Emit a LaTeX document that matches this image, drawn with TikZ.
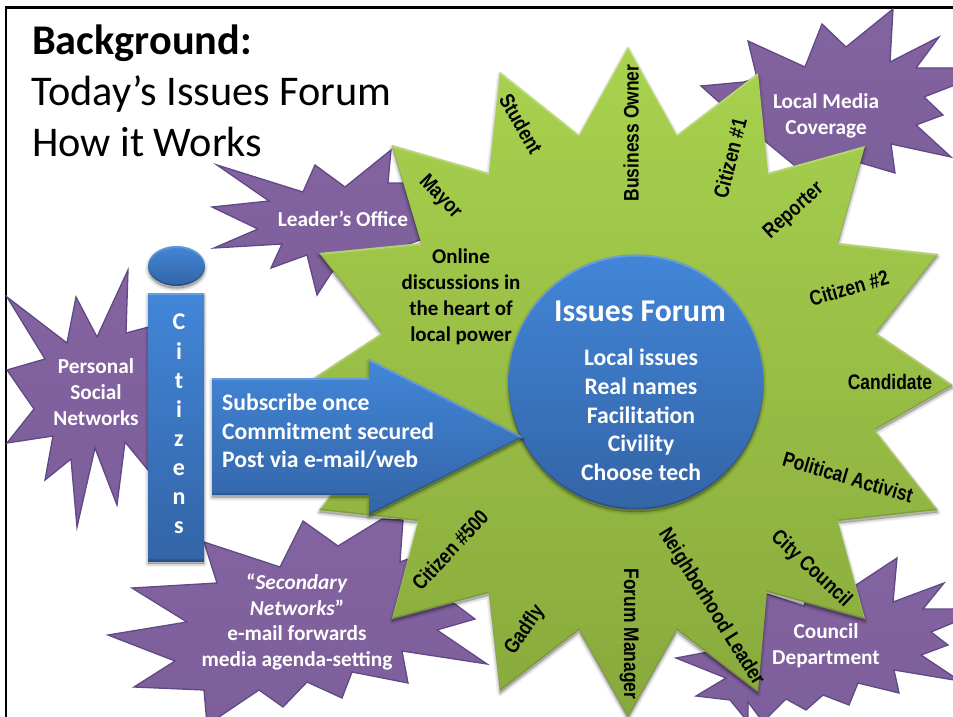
\documentclass[tikz,border=0pt]{standalone}
\usepackage{fontspec}
\setmainfont{Carlito}
\newfontfamily\lab[FakeStretch=0.83]{Liberation Sans}
\definecolor{gtop}{HTML}{A8D24E}
\definecolor{gbot}{HTML}{88A93C}
\definecolor{btop}{HTML}{4286D8}
\definecolor{bbot}{HTML}{3364A6}
\definecolor{ptop}{HTML}{8363A0}
\definecolor{pbot}{HTML}{7D5F9C}
\definecolor{pedge}{HTML}{5F4A85}
\def\greenstar{(392,145)--(489,173)--(500,72)--(579,135)--(628,47)--(677,135)--(758,73)--(768,173)--(865,146)--(838,243)--(938,254)--(876,333)--(953,385)--(875,430)--(938,510)--(838,521)--(865,619)--(767,592)--(758,692)--(677,630)--(628,717)--(579,630)--(500,691)--(489,593)--(392,619)--(418,521)--(319,510)--(381,430)--(303,385)--(382,333)--(319,253)--(421,243)--cycle}
\def\leaderstar{(391,150)--(388,183)--(405,183)--(420,240)--(332,272)--(317,295)--(307,255)--(271,268)--(282,244)--(214,248)--(258,229)--(212,207)--(269,201)--(217,165)--(303,192)--(315,165)--(345,187)--cycle}
\def\mediastar{(893,9)--(890,62)--(939,37)--(916,68)--(960,68)--(960,83)--(924,97)--(943,115)--(916,125)--(951,157)--(891,144)--(895,173)--(861,163)--(800,170)--(725,108)--(719,102)--(701,86)--(744,82)--(757,78)--(748,41)--(805,67)--(822,24)--(846,47)--cycle}
\def\personalstar{(7,297)--(67,343)--(76,297)--(97,337)--(128,270)--(126,333)--(160,324)--(160,478)--(148,470)--(125,442)--(117,505)--(95,448)--(77,527)--(71,459)--(45,480)--(53,436)--(7,443)--(34,409)--(7,370)--(45,359)--cycle}
\def\secondstar{(204,542)--(280,567)--(303,521)--(338,546)--(382,519)--(403,520)--(400,562)--(408,559)--(420,590)--(455,604)--(475,619)--(437,630)--(487,664)--(402,651)--(408,683)--(352,672)--(342,698)--(307,682)--(283,707)--(259,690)--(207,725)--(204,690)--(134,687)--(175,661)--(108,635)--(187,622)--(132,588)--(217,583)--cycle}
\def\councilstar{(897,558)--(893,602)--(944,583)--(923,609)--(960,609)--(960,620)--(931,632)--(948,645)--(921,655)--(960,681)--(894,670)--(899,693)--(858,683)--(849,705)--(823,695)--(806,710)--(786,699)--(763,722)--(748,702)--(748,722)--(730,700)--(696,696)--(726,678)--(676,658)--(708,652)--(767,594)--(804,606)--(806,600)--(856,585)--cycle}
\def\arrowshape{(212,378)--(369,378)--(369,359)--(523,437)--(369,515)--(369,495)--(212,495)--cycle}
\def\citizenbar{(148,293) rectangle (204,561)}
\def\citizenhead{(176.5,266) ellipse [x radius=28.5,y radius=20]}
\def\forumdisc{(636,382) circle [radius=127.5]}
\newcommand\softshadow[1]{%
  \begin{scope}[yshift=-2.5pt]
    \foreach \w in {6,4,2,.5}{\filldraw[black,opacity=.055,line width=\w pt,line join=round] #1;}
  \end{scope}}
\newcommand\bevelshape[5]{% path, top, bottom, highlight opacity, dark opacity
  \softshadow{#1}
  \shade[top color=#2,bottom color=#3] #1;
  \begin{scope}
    \clip #1;
    \begin{scope}[yshift=-2pt]\fill[white,opacity=#4,even odd rule] (-100,-100) rectangle (1100,900) #1;\end{scope}
    \begin{scope}[yshift=1.6pt]\fill[black,opacity=#5,even odd rule] (-100,-100) rectangle (1100,900) #1;\end{scope}
  \end{scope}}
\newcommand\burst[1]{\shade[top color=ptop,bottom color=pbot,draw=pedge,line width=1.3pt,line join=miter] #1;}
\tikzset{
  title/.style={anchor=base west,inner sep=0,font=\fontsize{42.3}{50}\selectfont,text=black},
  rolelabel/.style={inner sep=0,text=black,font=\lab\bfseries\fontsize{21}{24}\selectfont},
  burstlabel/.style={inner sep=0,align=center,text=white,font=\bfseries\fontsize{21.3}{25.8}\selectfont},
  bluelabel/.style={inner sep=0,text=white,font=\bfseries\fontsize{23.7}{28.7}\selectfont},
}
\begin{document}
\begin{tikzpicture}[x=1pt,y=-1pt]
\useasboundingbox (0,0) rectangle (953,717);
\clip (0,0) rectangle (953,717);
\fill[white] (0,0) rectangle (953,717);
\draw[black,line width=2.7pt] (6,730) -- (6,7.4) -- (960,7.4);
\burst{\leaderstar}
\burst{\mediastar}
\burst{\personalstar}
\burst{\secondstar}
\burst{\councilstar}
\bevelshape{\greenstar}{gtop}{gbot}{.22}{.12}
\bevelshape{\forumdisc}{btop}{bbot}{.2}{.18}
\bevelshape{\arrowshape}{btop}{bbot}{.2}{.18}
\bevelshape{\citizenbar}{btop}{bbot}{.2}{.18}
\bevelshape{\citizenhead}{btop}{bbot}{.15}{.2}
\node[title,font=\bfseries\fontsize{42.3}{50}\selectfont] (t1) at (32,54.5) {Background:};
\node[title] (t2) at (31,106) {Today’s Issues Forum};
\node[title] (t3) at (32,156) {How it Works};
\node[rolelabel,rotate=-46] (mayor) at (440,197) {Mayor};
\node[rolelabel,rotate=-60] (student) at (521,124) {Student};
\node[rolelabel,rotate=90] (owner) at (631,133) {Business Owner};
\node[rolelabel,rotate=76] (cit1) at (730,158) {Citizen \#1};
\node[rolelabel,rotate=42] (reporter) at (794,211) {Reporter};
\node[rolelabel,rotate=16] (cit2) at (849,288) {Citizen \#2};
\node[rolelabel] (candidate) at (890,382) {Candidate};
\node[rolelabel,rotate=-16.5] (activist) at (848,477) {Political Activist};
\node[rolelabel,rotate=-43] (council) at (811,569) {City Council};
\node[rolelabel,rotate=-58] (neighbor) at (711,607) {Neighborhood Leader};
\node[rolelabel,rotate=-90] (manager) at (629,634) {Forum Manager};
\node[rolelabel,rotate=56] (gadfly) at (525,630) {Gadfly};
\node[rolelabel,rotate=47] (cit500) at (450,550) {Citizen \#500};
\node[inner sep=0,align=center,text=black,font=\bfseries\fontsize{21}{26}\selectfont] (online) at (461,296.5) {Online\\discussions in\\the heart of\\local power};
\node[inner sep=0,text=white,font=\bfseries\fontsize{31.7}{36}\selectfont] (forum) at (640,311) {Issues Forum};
\node[bluelabel,align=center] (forumlist) at (641,415) {Local issues\\Real names\\Facilitation\\Civility\\Choose tech};
\node[bluelabel,align=left,anchor=north west] (steps) at (222,393.5) {Subscribe once\\Commitment secured\\Post via e-mail/web};
\node[inner sep=0,align=center,text=white,font=\bfseries\fontsize{24}{29.1}\selectfont] (citizens) at (179,424) {C\\i\\t\\i\\z\\e\\n\\s};
\node[burstlabel] (leader) at (343,219) {Leader’s Office};
\node[burstlabel] (media) at (826,116) {Local Media\\Coverage};
\node[burstlabel] (personal) at (96,392) {Personal\\Social\\Networks};
\node[burstlabel] (secondary) at (297,622) {“\textit{Secondary}\\\textit{Networks}”\\e-mail forwards\\media agenda-setting};
\node[burstlabel] (dept) at (826,646) {Council\\Department};
\end{tikzpicture}
\end{document}
